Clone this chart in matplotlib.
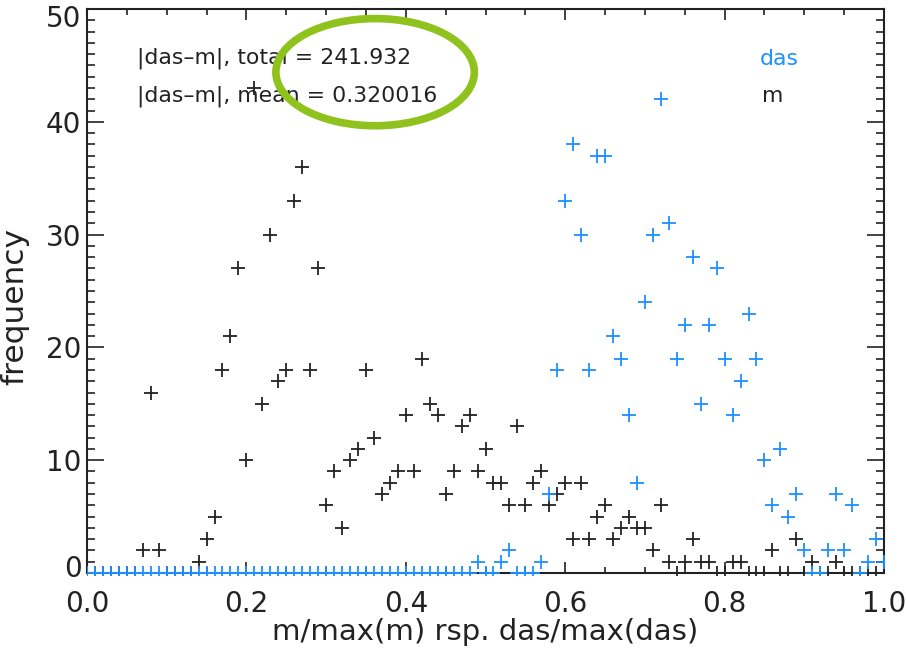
import numpy as np
import matplotlib
matplotlib.use("Agg")
import matplotlib.pyplot as plt
from matplotlib.patches import Ellipse
from matplotlib.ticker import MultipleLocator
from matplotlib.transforms import Bbox, TransformedBbox, ScaledTranslation

# ---------------- data ----------------
bin_width = 0.01
n_bins = 101

m_counts = [0, 0, 0, 0, 0, 0, 0, 2, 16, 2,
            0, 0, 0, 0, 1, 3, 5, 18, 21, 27,
            10, 43, 15, 30, 17, 18, 33, 36, 18, 27,
            6, 9, 4, 10, 11, 18, 12, 7, 8, 9,
            14, 9, 19, 15, 14, 7, 9, 13, 14, 9,
            11, 8, 8, 6, 13, 6, 8, 9, 6, 7,
            8, 3, 8, 3, 5, 6, 3, 4, 5, 4,
            4, 2, 6, 1, 0, 1, 3, 1, 1, 0,
            0, 1, 1, 0, 0, 0, 2, 0, 0, 3,
            0, 1, 0, 0, 1, 0, 0, 0, 0, 0,
            1]

das_counts = [0, 0, 0, 0, 0, 0, 0, 0, 0, 0,
              0, 0, 0, 0, 0, 0, 0, 0, 0, 0,
              0, 0, 0, 0, 0, 0, 0, 0, 0, 0,
              0, 0, 0, 0, 0, 0, 0, 0, 0, 0,
              0, 0, 0, 0, 0, 0, 0, 0, 0, 1,
              0, 0, 1, 2, 0, 0, 0, 1, 7, 18,
              33, 38, 30, 18, 37, 37, 21, 19, 14, 8,
              24, 30, 42, 31, 19, 22, 28, 15, 22, 27,
              19, 14, 17, 23, 19, 10, 6, 11, 5, 7,
              2, 0, 0, 2, 7, 2, 6, 0, 1, 3,
              1]

x_ticks = [0.0, 0.2, 0.4, 0.6, 0.8, 1.0]
x_tick_labels = ["0.0", "0.2", "0.4", "0.6", "0.8", "1.0"]
y_ticks = [0, 10, 20, 30, 40, 50]
y_tick_labels = ["0", "10", "20", "30", "40", "50"]

total_text = "|das–m|, total = 241.932"
mean_text = "|das–m|, mean = 0.320016"
xlabel = "m/max(m) rsp. das/max(das)"
ylabel = "frequency"

# ---------------- style ----------------
INK = "#222222"
BLUE = "#1e90ff"
GREEN = "#90c21e"

plt.rcParams["font.family"] = ["DejaVu Sans"]

fig = plt.figure(figsize=(9.06, 6.56), dpi=100)
ax = fig.add_axes([87 / 906, (656 - 573) / 656, 797 / 906, 564 / 656])

x = np.arange(n_bins) * bin_width

clipbox = TransformedBbox(Bbox([[0.0, -0.004], [1.0, 1.0]]), ax.transAxes)

lm, = ax.plot(x, m_counts, linestyle="none", marker="+", markersize=10,
              markeredgewidth=1.3, color=INK, zorder=3)
ld, = ax.plot(x, das_counts, linestyle="none", marker="+", markersize=10,
              markeredgewidth=1.3, color=BLUE, zorder=3.1)
for ln in (lm, ld):
    ln.set_clip_box(clipbox)

ax.set_xlim(0, 1)
ax.set_ylim(0, 50)

ax.set_xticks(x_ticks)
ax.set_xticklabels(x_tick_labels)
ax.set_yticks(y_ticks)
ax.set_yticklabels(y_tick_labels)
ax.xaxis.set_minor_locator(MultipleLocator(0.05))
ax.yaxis.set_minor_locator(MultipleLocator(1))

ax.tick_params(axis="x", which="major", direction="in", length=8, width=1.2,
               top=True, bottom=True, labelsize=20, pad=12, colors=INK)
ax.tick_params(axis="x", which="minor", direction="in", length=4, width=1.2,
               top=True, bottom=True)
ax.tick_params(axis="y", which="major", direction="in", length=12, width=1.2,
               left=True, right=True, labelsize=20, pad=4, colors=INK)
ax.tick_params(axis="y", which="minor", direction="in", length=6, width=1.2,
               left=True, right=True)
ax.tick_params(which="both", color=INK)
for sp in ax.spines.values():
    sp.set_linewidth(1.5)
    sp.set_color(INK)

# end labels of the y axis are pulled inward, as in the reference
ylabels = ax.get_yticklabels()
ylabels[0].set_transform(ylabels[0].get_transform() +
                         ScaledTranslation(0, 7 / 100, fig.dpi_scale_trans))
ylabels[-1].set_transform(ylabels[-1].get_transform() +
                          ScaledTranslation(0, -7 / 100, fig.dpi_scale_trans))

fig.text(485.5 / 906, 1 - 632 / 656, xlabel, ha="center", va="center",
         fontsize=21, color=INK)
fig.text(15 / 906, 1 - 306 / 656, ylabel, ha="center", va="center",
         rotation=90, fontsize=22.5, color=INK)

ax.text(0.063, 45.6, total_text, ha="left", va="center", fontsize=15.8, color=INK)
ax.text(0.063, 42.3, mean_text, ha="left", va="center", fontsize=15.8, color=INK)
ax.text(0.844, 45.6, "das", ha="left", va="center", fontsize=15.8, color=BLUE)
ax.text(0.847, 42.3, "m", ha="left", va="center", fontsize=15.8, color=INK)

ell = Ellipse((0.3615, 44.4), width=0.249, height=9.5, fill=False,
              edgecolor=GREEN, linewidth=5.5, zorder=5)
ax.add_patch(ell)

fig.savefig("out.png", dpi=100)
